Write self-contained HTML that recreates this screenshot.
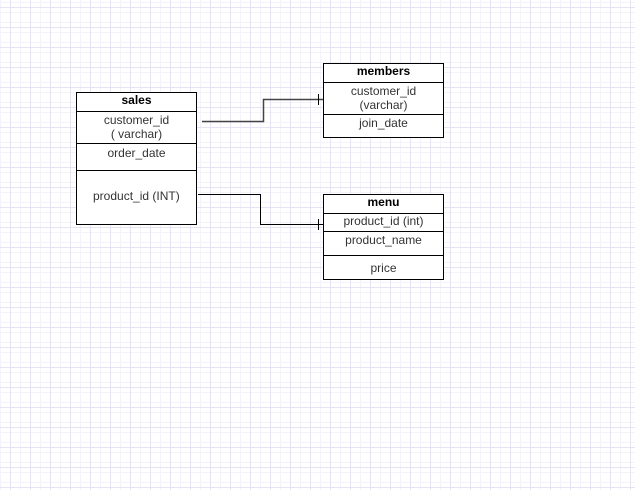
<!DOCTYPE html>
<html><head><style>
body{margin:0;width:635px;height:490px;overflow:hidden;background:#fff;
background-image:
linear-gradient(to right,#e6e4f3 1px,transparent 1px),
linear-gradient(to bottom,#e6e4f3 1px,transparent 1px),
linear-gradient(to right,#f4f3f9 1px,transparent 1px),
linear-gradient(to bottom,#f4f3f9 1px,transparent 1px);
background-size:20px 20px,20px 20px,10px 10px,10px 10px;
background-position:10px 7px,10px 7px,0px 2px,0px 2px;
font-family:"Liberation Sans",Arial,sans-serif;font-size:12px;color:#333;position:relative}
.t{position:absolute;border:1px solid #000;background:#fff;box-sizing:border-box;width:121px}
.r{border-top:1px solid #000;text-align:center;box-sizing:border-box;line-height:14px}
.h{font-weight:bold;color:#000;text-align:center;line-height:15px}
svg{position:absolute;left:0;top:0}
</style></head><body>
<div class="t" style="left:76px;top:92px;height:133px">
<div class="h" style="height:18px">sales</div>
<div class="r" style="height:32px;padding-top:1px">customer_id<br>( varchar)</div>
<div class="r" style="height:27px;padding-top:2px">order_date</div>
<div class="r" style="height:54px;padding-top:18px;text-align:left;padding-left:16px">product_id (INT)</div>
</div>
<div class="t" style="left:323px;top:63px;height:75px">
<div class="h" style="height:18px">members</div>
<div class="r" style="height:32px;padding-top:1px">customer_id<br>(varchar)</div>
<div class="r" style="height:23px;padding-top:1px">join_date</div>
</div>
<div class="t" style="left:323px;top:194px;height:86px">
<div class="h" style="height:18px">menu</div>
<div class="r" style="height:18px;padding-top:0px">product_id (int)</div>
<div class="r" style="height:24px;padding-top:1px">product_name</div>
<div class="r" style="height:24px;padding-top:5px">price</div>
</div>
<svg width="635" height="490">
<path d="M202 121.5H263.5V99.5H323" fill="none" stroke="#444" stroke-width="1.5"/>
<path d="M318.5 94V105" stroke="#000"/>
<path d="M198 194.5H260.5V224.5H323" fill="none" stroke="#000" stroke-width="1"/>
<path d="M318.5 219V230" stroke="#000"/>
</svg>
</body></html>
